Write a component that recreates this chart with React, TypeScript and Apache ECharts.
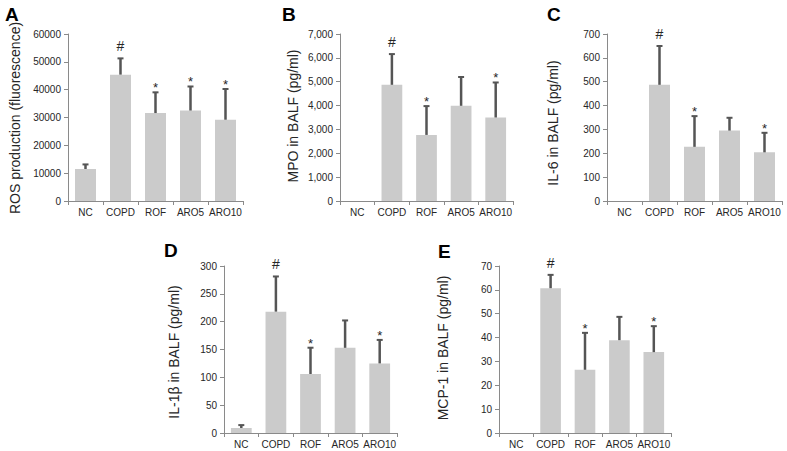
import React, { useEffect, useRef } from 'react';
import * as echarts from 'echarts';

const categories = ['NC', 'COPD', 'ROF', 'ARO5', 'ARO10'];

const rosMean = [11500, 45400, 31600, 32500, 29200];
const rosSd = [2000, 6200, 7800, 9000, 11400];
const rosMarks = ['', '#', '*', '*', '*'];

const mpoMean = [0, 4870, 2770, 3990, 3500];
const mpoSd = [0, 1330, 1250, 1250, 1510];
const mpoMarks = ['', '#', '*', '', '*'];

const il6Mean = [0, 487, 227, 295, 204];
const il6Sd = [0, 167, 133, 58, 86];
const il6Marks = ['', '#', '*', '', '*'];

const il1bMean = [9, 218, 106, 153, 125];
const il1bSd = [7, 65, 49, 51, 44];
const il1bMarks = ['', '#', '*', '', '*'];

const mcp1Mean = [0, 60.7, 26.5, 38.9, 33.9];
const mcp1Sd = [0, 6, 15.9, 10.2, 11.3];
const mcp1Marks = ['', '#', '*', '', '*'];

const FONT = '"Liberation Sans", Arial, Helvetica, sans-serif';

const panels = [
  { letter: 'A', name: 'ROS production (fluorescence)', mean: rosMean, sd: rosSd, marks: rosMarks, max: 60000, interval: 10000, comma: false,
    grid: { left: 68, top: 34, width: 175, height: 167 }, letterPos: [5, 14], namePos: [15, 118] },
  { letter: 'B', name: 'MPO in BALF (pg/ml)', mean: mpoMean, sd: mpoSd, marks: mpoMarks, max: 7000, interval: 1000, comma: true,
    grid: { left: 340, top: 34, width: 173, height: 167 }, letterPos: [282, 14], namePos: [293, 116] },
  { letter: 'C', name: 'IL-6 in BALF (pg/ml)', mean: il6Mean, sd: il6Sd, marks: il6Marks, max: 700, interval: 100, comma: false,
    grid: { left: 607, top: 34, width: 175, height: 167 }, letterPos: [547, 14], namePos: [553, 123] },
  { letter: 'D', name: 'IL-1\u03b2 in BALF (pg/ml)', mean: il1bMean, sd: il1bSd, marks: il1bMarks, max: 300, interval: 50, comma: false,
    grid: { left: 224, top: 266, width: 173, height: 167 }, letterPos: [164, 250], namePos: [174, 352] },
  { letter: 'E', name: 'MCP-1 in BALF (pg/ml)', mean: mcp1Mean, sd: mcp1Sd, marks: mcp1Marks, max: 70, interval: 10, comma: false,
    grid: { left: 499, top: 266, width: 172, height: 167 }, letterPos: [438, 251], namePos: [443, 348] },
];

const AXIS_COLOR = '#8a8a8a';
const BAR_COLOR = '#cbcbcb';
const ERR_COLOR = '#555555';
const TEXT_COLOR = '#262626';

export default function App() {
  const ref = useRef<HTMLDivElement>(null);

  useEffect(() => {
    if (!ref.current) return;
    const chart = echarts.init(ref.current, undefined, { renderer: 'svg' });

    const grid = panels.map((p) => ({ ...p.grid, containLabel: false }));
    const xAxis = panels.map((p, i) => ({
      type: 'category',
      gridIndex: i,
      data: categories,
      boundaryGap: true,
      axisLine: { show: true, lineStyle: { color: AXIS_COLOR, width: 1 } },
      axisTick: { show: true, length: 4, alignWithLabel: false, lineStyle: { color: AXIS_COLOR } },
      axisLabel: { show: true, color: TEXT_COLOR, fontSize: 10, fontFamily: FONT, margin: 6, interval: 0 },
      splitLine: { show: false },
    }));
    const yAxis = panels.map((p, i) => ({
      type: 'value',
      gridIndex: i,
      min: 0,
      max: p.max,
      interval: p.interval,
      axisLine: { show: true, lineStyle: { color: AXIS_COLOR, width: 1 } },
      axisTick: { show: true, length: 4, lineStyle: { color: AXIS_COLOR } },
      axisLabel: {
        show: true, color: TEXT_COLOR, fontSize: 10, fontFamily: FONT, margin: 7,
        formatter: (v: number) => (p.comma ? v.toLocaleString('en-US') : String(v)),
      },
      splitLine: { show: false },
    }));

    const series: any[] = [];
    panels.forEach((p, i) => {
      series.push({
        type: 'bar',
        xAxisIndex: i,
        yAxisIndex: i,
        data: p.mean,
        barCategoryGap: '40%',
        itemStyle: { color: BAR_COLOR },
        silent: true,
      });
      series.push({
        type: 'custom',
        xAxisIndex: i,
        yAxisIndex: i,
        data: p.mean.map((m, k) => [k, m, p.sd[k]]),
        silent: true,
        z: 5,
        renderItem: (params: any, api: any) => {
          const k = api.value(0);
          const m = api.value(1);
          const s = api.value(2);
          const children: any[] = [];
          const base = api.coord([k, m]);
          const top = api.coord([k, m + s]);
          if (s > 0) {
            children.push({
              type: 'line',
              shape: { x1: base[0], y1: base[1], x2: top[0], y2: top[1] + 1 },
              style: { stroke: ERR_COLOR, lineWidth: 2.5 },
            });
            children.push({
              type: 'line',
              shape: { x1: top[0] - 3, y1: top[1] + 1, x2: top[0] + 3, y2: top[1] + 1 },
              style: { stroke: ERR_COLOR, lineWidth: 2 },
            });
          }
          const mark = p.marks[params.dataIndex];
          if (mark) {
            const isHash = mark === '#';
            children.push({
              type: 'text',
              x: top[0],
              y: isHash ? top[1] - 4 : top[1] + 3,
              style: {
                text: mark,
                fill: TEXT_COLOR,
                font: `${isHash ? 14 : 13}px ${FONT}`,
                textAlign: 'center',
                textVerticalAlign: 'bottom',
              },
            });
          }
          return { type: 'group', children };
        },
      });
    });

    const graphic: any[] = [];
    panels.forEach((p) => {
      graphic.push({
        type: 'text',
        x: p.letterPos[0],
        y: p.letterPos[1],
        style: {
          text: p.letter,
          fill: '#000',
          font: `bold 19px ${FONT}`,
          textAlign: 'left',
          textVerticalAlign: 'middle',
        },
      });
      graphic.push({
        type: 'text',
        x: p.namePos[0],
        y: p.namePos[1],
        rotation: Math.PI / 2,
        style: {
          text: p.name,
          fill: TEXT_COLOR,
          font: `14px ${FONT}`,
          textAlign: 'center',
          textVerticalAlign: 'middle',
        },
      });
    });

    chart.setOption({
      animation: false,
      backgroundColor: '#fff',
      grid,
      xAxis,
      yAxis,
      series,
      graphic,
    });

    return () => chart.dispose();
  }, []);

  return (
    <div
      ref={ref}
      style={{ position: 'absolute', left: 0, top: 0, width: 787, height: 451 }}
    />
  );
}
